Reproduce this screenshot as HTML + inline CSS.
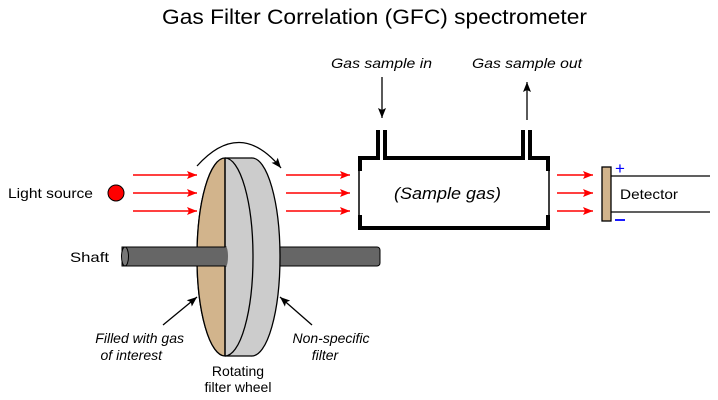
<!DOCTYPE html>
<html><head><style>
body{margin:0;background:#fff;}
svg{display:block;}
text{font-family:"Liberation Sans",sans-serif;fill:#000;}
</style></head><body>
<svg width="718" height="400" viewBox="0 0 718 400">
<defs>
<marker id="ra" markerWidth="10" markerHeight="8" refX="10" refY="4" orient="auto" markerUnits="userSpaceOnUse"><path d="M0,0 L10,4 L0,8 L2,4 Z" fill="#f00"/></marker>
<marker id="ka" markerWidth="10" markerHeight="8" refX="10" refY="4" orient="auto" markerUnits="userSpaceOnUse"><path d="M0,0 L10,4 L0,8 L2,4 Z" fill="#000"/></marker>
</defs>
<text x="162" y="24" font-size="21" textLength="425" lengthAdjust="spacingAndGlyphs">Gas Filter Correlation (GFC) spectrometer</text>
<text x="331" y="68" font-size="14" font-style="italic" textLength="101" lengthAdjust="spacingAndGlyphs">Gas sample in</text>
<text x="472" y="68" font-size="14" font-style="italic" textLength="110" lengthAdjust="spacingAndGlyphs">Gas sample out</text>
<line x1="382" y1="77" x2="382" y2="118" stroke="#000" stroke-width="1.3" marker-end="url(#ka)"/>
<line x1="527" y1="120" x2="527" y2="82" stroke="#000" stroke-width="1.3" marker-end="url(#ka)"/>

<text x="8" y="198" font-size="14" textLength="85" lengthAdjust="spacingAndGlyphs">Light source</text>
<circle cx="116" cy="193" r="8" fill="#f00" stroke="#000" stroke-width="1"/>
<g stroke="#f00" stroke-width="1.5">
<line x1="133" y1="175" x2="197" y2="175" marker-end="url(#ra)"/>
<line x1="133" y1="193" x2="197" y2="193" marker-end="url(#ra)"/>
<line x1="133" y1="211" x2="197" y2="211" marker-end="url(#ra)"/>
<line x1="286" y1="175" x2="350" y2="175" marker-end="url(#ra)"/>
<line x1="286" y1="193" x2="350" y2="193" marker-end="url(#ra)"/>
<line x1="286" y1="211" x2="350" y2="211" marker-end="url(#ra)"/>
<line x1="557" y1="175" x2="593" y2="175" marker-end="url(#ra)"/>
<line x1="557" y1="193" x2="593" y2="193" marker-end="url(#ra)"/>
<line x1="557" y1="211" x2="593" y2="211" marker-end="url(#ra)"/>
</g>

<rect x="270" y="247" width="110" height="19" rx="3" fill="#666" stroke="#000" stroke-width="1"/>
<ellipse cx="252" cy="257" rx="28" ry="99" fill="#ccc" stroke="#000" stroke-width="1.3"/>
<rect x="225" y="158" width="27" height="198" fill="#ccc"/>
<line x1="225" y1="158" x2="252" y2="158" stroke="#000" stroke-width="1.3"/>
<line x1="225" y1="356" x2="252" y2="356" stroke="#000" stroke-width="1.3"/>
<ellipse cx="225" cy="257" rx="28" ry="99" fill="#ccc" stroke="#000" stroke-width="1.3"/>
<path d="M225,158 A28,99 0 0 0 225,356 Z" fill="#d2b48c" stroke="#000" stroke-width="1.3"/>
<rect x="122" y="247" width="104" height="19" fill="#666" stroke="#000" stroke-width="1"/>
<ellipse cx="125" cy="256.5" rx="3.5" ry="9.5" fill="#777" stroke="#000" stroke-width="1"/>
<ellipse cx="226" cy="256.5" rx="2" ry="9.5" fill="#666"/>
<line x1="225" y1="158" x2="225" y2="247" stroke="#000" stroke-width="1.3"/>
<line x1="225" y1="266" x2="225" y2="356" stroke="#000" stroke-width="1.3"/>
<text x="70" y="262" font-size="14" textLength="39" lengthAdjust="spacingAndGlyphs">Shaft</text>
<path d="M197,166 Q240,118 281,168" fill="none" stroke="#000" stroke-width="1.3" marker-end="url(#ka)"/>

<line x1="163" y1="325" x2="197" y2="297" stroke="#000" stroke-width="1.3" marker-end="url(#ka)"/>
<line x1="312" y1="325" x2="280" y2="297" stroke="#000" stroke-width="1.3" marker-end="url(#ka)"/>
<text x="184" y="343" font-size="14" font-style="italic" text-anchor="end">Filled with gas</text>
<text x="162" y="360" font-size="14" font-style="italic" text-anchor="end">of interest</text>
<text x="331" y="343" font-size="14" font-style="italic" text-anchor="middle">Non-specific</text>
<text x="325" y="360" font-size="14" font-style="italic" text-anchor="middle">filter</text>
<text x="238" y="376" font-size="14" text-anchor="middle">Rotating</text>
<text x="238" y="392" font-size="14" text-anchor="middle">filter wheel</text>

<g stroke="#000" fill="none">
<path d="M360,171 V158 H378 V130" stroke-width="4"/>
<path d="M385,130 V158 H523 V130" stroke-width="4"/>
<path d="M530,130 V158 H548 V171" stroke-width="4"/>
<path d="M360,215 V228 H548 V215" stroke-width="4"/>
<line x1="359" y1="170" x2="359" y2="216" stroke-width="1.5"/>
<line x1="549" y1="170" x2="549" y2="216" stroke-width="1.5"/>
</g>
<text x="394" y="199" font-size="17" font-style="italic" textLength="107" lengthAdjust="spacingAndGlyphs">(Sample gas)</text>

<rect x="602" y="167" width="9" height="54" fill="#d2b48c" stroke="#000" stroke-width="1.3"/>
<line x1="611" y1="176" x2="710" y2="176" stroke="#000" stroke-width="1.3"/>
<line x1="611" y1="212" x2="710" y2="212" stroke="#000" stroke-width="1.3"/>
<text x="620" y="199" font-size="14" textLength="58" lengthAdjust="spacingAndGlyphs">Detector</text>
<text x="620" y="174" font-size="17" style="fill:#00f" text-anchor="middle">+</text>
<line x1="615" y1="220" x2="625" y2="220" stroke="#00f" stroke-width="1.8"/>
</svg>
</body></html>
